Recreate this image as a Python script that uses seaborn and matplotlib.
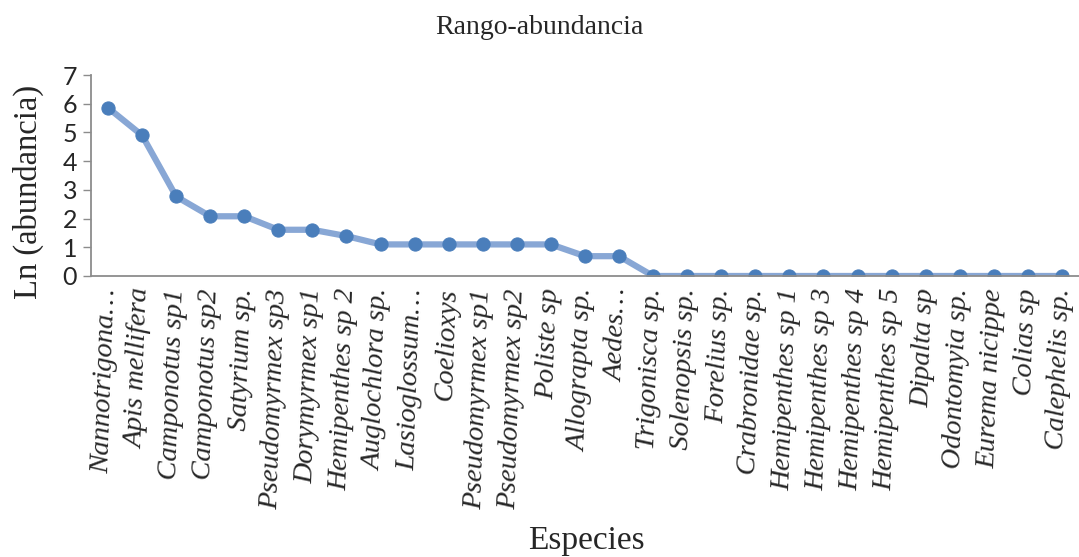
import numpy as np
import pandas as pd
import matplotlib
matplotlib.use("Agg")
import matplotlib.pyplot as plt
import matplotlib.transforms as mtransforms
import seaborn as sns

species = [
    "Nannotrigona…", "Apis mellifera", "Camponotus sp1", "Camponotus sp2",
    "Satyrium sp.", "Pseudomyrmex sp3", "Dorymyrmex sp1", "Hemipenthes sp 2",
    "Auglochlora sp.", "Lasioglossum…", "Coelioxys", "Pseudomyrmex sp1",
    "Pseudomyrmex sp2", "Poliste sp", "Allograpta sp.", "Aedes…",
    "Trigonisca sp.", "Solenopsis sp.", "Forelius sp.", "Crabronidae sp.",
    "Hemipenthes sp 1", "Hemipenthes sp 3", "Hemipenthes sp 4", "Hemipenthes sp 5",
    "Dipalta sp", "Odontomyia sp.", "Eurema nicippe", "Colias sp", "Calephelis sp.",
]
ln_abundance = [
    5.86, 4.90, 2.77, 2.08, 2.08, 1.61, 1.61, 1.39,
    1.10, 1.10, 1.10, 1.10, 1.10, 1.10, 0.69, 0.69,
    0.0, 0.0, 0.0, 0.0, 0.0, 0.0, 0.0, 0.0, 0.0, 0.0, 0.0, 0.0, 0.0,
]
y_ticks = [0, 1, 2, 3, 4, 5, 6, 7]

df = pd.DataFrame({"rank": np.arange(len(species)), "ln": ln_abundance})

sns.set_style("white")
plt.rcParams["font.family"] = ["Liberation Serif", "DejaVu Serif"]

fig = plt.figure(figsize=(10.79, 5.57), dpi=100)
ax = fig.add_axes([0.0843, 0.5045, 0.9157, 0.3608])

sns.lineplot(
    data=df, x="rank", y="ln", ax=ax,
    color="#88A7D5", linewidth=4.5,
    marker="o", markersize=9.5,
    markerfacecolor="#4A7EBB", markeredgecolor="#4A7EBB",
)

ax.set_xlim(-0.5, len(species) - 0.5)
ax.set_ylim(0, 7)
ax.set_yticks(y_ticks)
ax.set_yticklabels([str(v) for v in y_ticks], family=["Lato", "DejaVu Sans"], fontsize=18)
ax.set_xticks(df["rank"])
ax.set_xticklabels(species, rotation=88, rotation_mode="anchor",
                   ha="right", va="center", fontsize=20.5, style="italic")
shift = mtransforms.ScaledTranslation(5 / 100, 0, fig.dpi_scale_trans)
for lbl in ax.get_xticklabels():
    lbl.set_transform(lbl.get_transform() + shift)
ax.tick_params(axis="x", length=0, pad=9)
ax.tick_params(axis="y", length=6, width=1, color="#8C8C8C", pad=4, direction="out", left=True)

for side in ("top", "right"):
    ax.spines[side].set_visible(False)
for side in ("left", "bottom"):
    ax.spines[side].set_color("#8C8C8C")
    ax.spines[side].set_linewidth(1.3)

ax.set_xlabel("")
ax.set_ylabel("")
fig.text(0.5, 0.95, "Rango-abundancia", ha="center", va="center", fontsize=20)
fig.text(0.543, 0.03, "Especies", ha="center", va="center", fontsize=24)
fig.text(0.026, 0.655, "Ln (abundancia)", ha="center", va="center", rotation=90, fontsize=23.5)

fig.savefig("out.png", dpi=100)
